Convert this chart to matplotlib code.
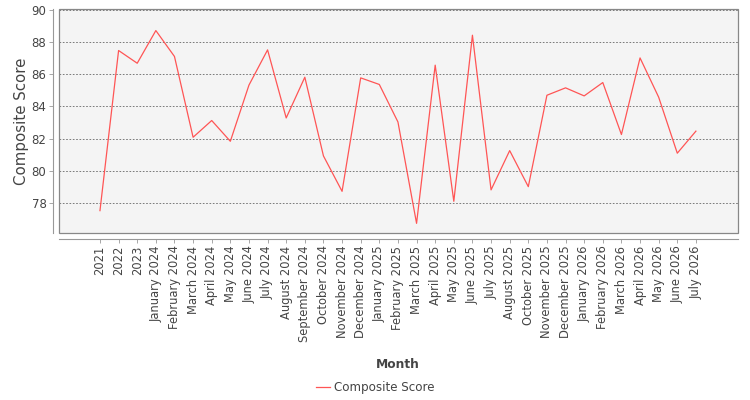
import numpy as np
import matplotlib
matplotlib.use("Agg")
import matplotlib.pyplot as plt
from matplotlib.patches import Rectangle

months = ["2021", "2022", "2023",
          "January 2024", "February 2024", "March 2024", "April 2024", "May 2024",
          "June 2024", "July 2024", "August 2024", "September 2024", "October 2024",
          "November 2024", "December 2024",
          "January 2025", "February 2025", "March 2025", "April 2025", "May 2025",
          "June 2025", "July 2025", "August 2025", "October 2025", "November 2025",
          "December 2025",
          "January 2026", "February 2026", "March 2026", "April 2026", "May 2026",
          "June 2026", "July 2026"]
scores = [77.52, 87.47, 86.68, 88.71, 87.10, 82.08, 83.12, 81.83, 85.32, 87.51,
          83.28, 85.81, 80.92, 78.72, 85.77, 85.36, 83.03, 76.73, 86.56, 78.10,
          88.42, 78.81, 81.25, 79.01, 84.69, 85.15, 84.65, 85.48, 82.25, 87.01,
          84.57, 81.09, 82.46]
y_ticks = [78, 80, 82, 84, 86, 88, 90]

plt.rcParams['font.family'] = ['DejaVu Sans']

fig = plt.figure(figsize=(7.5, 4), dpi=100)
ax = fig.add_axes([59/750, 1 - 233/400, (738 - 59)/750, (233 - 9)/400])
ax.set_facecolor("#f4f4f4")

# axes lines sit a little outside the plot box
# (set_position resets ticks, so do it before the tick labels)
for side in ["top", "right"]:
    ax.spines[side].set_visible(False)
for side in ["left", "bottom"]:
    ax.spines[side].set_position(("outward", 4))
    ax.spines[side].set_color("#999999")
    ax.spines[side].set_linewidth(0.8)

x = np.arange(len(months))
ax.plot(x, scores, color="#ff5555", linewidth=0.9, label="Composite Score")

ax.tick_params(axis="both", color="#999999", length=3, width=0.6, pad=2)

ax.set_xlim(-2.2, len(months) - 1 + 2.26)
ax.set_ylim(76.13, 90.05)
ax.set_yticks(y_ticks)
ax.set_yticklabels([str(v) for v in y_ticks], fontsize=8.5, color="#444444")
ax.set_xticks(x)
ax.set_xticklabels(months, rotation=90, fontsize=8.3, color="#444444")

ax.grid(axis="y", color="#666666", linestyle=(0, (2, 2)), linewidth=0.6)
ax.set_axisbelow(True)

# plot border
ax.add_patch(Rectangle((0, 0), 1, 1, transform=ax.transAxes, fill=False,
                       edgecolor="#888888", linewidth=0.9, clip_on=False, zorder=5))

ax.set_ylabel("Composite Score", fontsize=10.8, color="#444444", labelpad=2)
fig.text(398/750, 1 - 364/400, "Month", fontsize=8.8, fontweight="bold",
         color="#444444", ha="center", va="center")

leg = fig.legend(loc="center", bbox_to_anchor=(375/750, 1 - 388/400), frameon=False,
                 fontsize=8.6, handlelength=1.2, handletextpad=0.3)
for t in leg.get_texts():
    t.set_color("#444444")

fig.savefig("out.png", dpi=100)
